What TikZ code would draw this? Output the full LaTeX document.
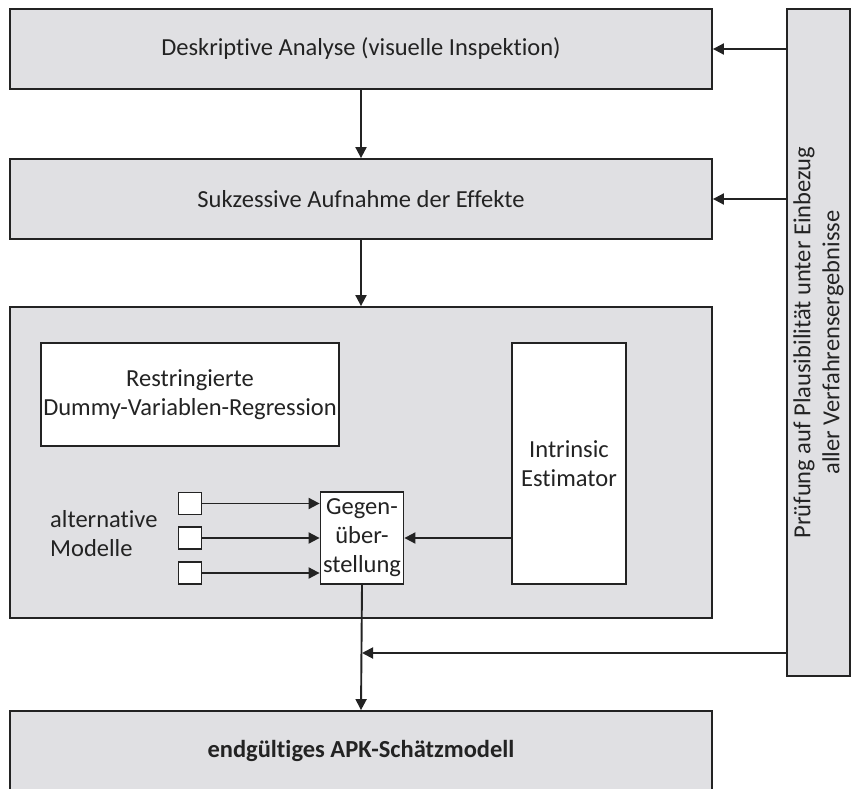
\documentclass[tikz,border=0pt]{standalone}
\usepackage{fontspec}
\setmainfont{Carlito}[Ligatures={NoCommon}]
\usetikzlibrary{arrows.meta}
\definecolor{boxgray}{RGB}{224,224,227}
\definecolor{ink}{RGB}{35,35,35}
\tikzset{
  x=1pt, y=-1pt,
  every node/.style={font=\fontsize{24.5}{29}\selectfont, text=ink, inner sep=0pt, align=center},
  graybox/.style={draw=ink, line width=1.8pt, fill=boxgray, rectangle},
  whitebox/.style={draw=ink, line width=1.8pt, fill=white, rectangle},
  link/.style={draw=ink, line width=1.9pt},
  arr/.style={link, -{Triangle[length=11pt,width=11pt]}},
}
\begin{document}
\begin{tikzpicture}
\useasboundingbox (0,0) rectangle (857,789);

% main stages
\node[graybox, minimum width=702pt, minimum height=80pt] (desk) at (361,49) {Deskriptive Analyse (visuelle Inspektion)};
\node[graybox, minimum width=702pt, minimum height=80pt] (suk) at (361,199) {Sukzessive Aufnahme der Effekte};
\node[graybox, minimum width=702pt, minimum height=311pt] (mod) at (361,462.5) {};
\node[graybox, minimum width=702pt, minimum height=80pt] (end) at (361,751) {\bfseries endgültiges APK-Schätzmodell};

% plausibility check column
\node[graybox, minimum width=63pt, minimum height=667pt] (pruef) at (818.5,342.5) {};
\node[rotate=90] at (pruef.center) {Prüfung auf Plausibilität unter Einbezug\\aller Verfahrensergebnisse};

% inner boxes of the model stage
\node[whitebox, minimum width=298pt, minimum height=103pt] (drr) at (190,394.5) {Restringierte\\Dummy-Variablen-Regression};
\node[whitebox, minimum width=114pt, minimum height=241pt] (ie) at (569,463.5) {Intrinsic\\Estimator};
\node[whitebox, minimum width=83pt, minimum height=92pt] (geg) at (362,538) {Gegen-\\über-\\stellung};
\node[anchor=west, align=left] (alt) at (50,534) {alternative\\Modelle};

\node[whitebox, minimum width=23pt, minimum height=22pt] (m1) at (190,503.5) {};
\node[whitebox, minimum width=23pt, minimum height=22pt] (m2) at (190,538) {};
\node[whitebox, minimum width=23pt, minimum height=22pt] (m3) at (190,573) {};

% connectors
\draw[arr] (desk.south) -- (suk.north);
\draw[arr] (suk.south) -- (mod.north);
\draw[arr] (pruef.west |- desk.east) -- (desk.east);
\draw[arr] (pruef.west |- suk.east) -- (suk.east);
\draw[arr] (m1.east) -- (geg.west |- m1.east);
\draw[arr] (m2.east) -- (geg.west |- m2.east);
\draw[arr] (m3.east) -- (geg.west |- m3.east);
\draw[arr] (ie.west |- geg.east) -- (geg.east);
\coordinate (join) at (362,653);
\draw[arr] (geg.south) -- (end.north);
\draw[arr] (pruef.west |- join) -- (join);
\end{tikzpicture}
\end{document}
